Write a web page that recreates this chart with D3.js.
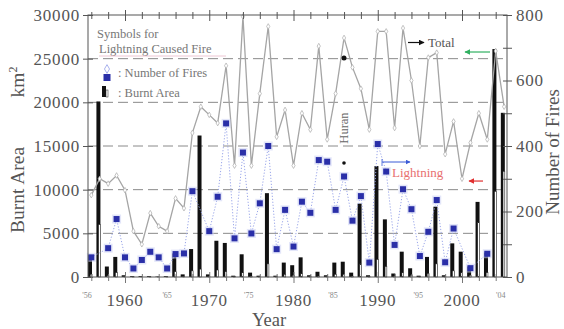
<!DOCTYPE html>
<html>
<head>
<meta charset="utf-8">
<script src="https://cdn.jsdelivr.net/npm/d3@7"></script>
<style>
  body { margin: 0; background: #fff; }
  svg { display: block; font-family: "Liberation Serif", "DejaVu Serif", serif; }
</style>
</head>
<body>
<div id="chart"></div>
<script>
// years 1956 .. 2005
const years = d3.range(1956, 2006);

// total burnt area (km2), black bars
const totalArea = [2500, 20100, 1200, 2300, 200, 100, 100, 100, 50, 100,
  2700, 300, 3200, 16200, 300, 4150, 3900, 150, 2600, 500,
  150, 9600, 150, 1650, 1350, 2250, 200, 600, 200, 1650,
  1750, 500, 8400, 200, 12700, 6600, 400, 2900, 1000, 150,
  2300, 8050, 200, 3850, 2900, 1200, 8600, 2800, 26100, 18800];

// lightning caused burnt area (km2), white bars
const lightningArea = [300, 6000, 150, 500, 30, 20, 30, 20, 10, 20,
  600, 50, 700, 900, 50, 800, 600, 30, 500, 100,
  30, 1500, 30, 300, 200, 400, 30, 100, 30, 300,
  300, 100, 1500, 30, 2000, 1200, 80, 500, 200, 30,
  400, 1500, 30, 700, 500, 200, 6300, 500, 9800, 12100];

// total number of fires, grey line
const totalFires = [250, 300, 285, 310, 265, 140, 100, 195, 155, 140,
  240, 210, 440, 520, 495, 470, 645, 340, 795, 340,
  560, 765, 428, 510, 340, 500, 450, 705, 420, 560,
  730, 640, 575, 450, 750, 750, 455, 760, 600, 400,
  670, 685, 375, 475, 300, 410, 500, 420, 690, 520];

// lightning caused fires, blue squares (null = not shown)
const lightningFires = [60, null, 88, 177, 60, 26, 52, 77, 60, 26,
  70, 72, 262, null, 140, 245, 469, 118, 380, 133,
  225, 400, 85, 205, 93, 230, 196, 357, 352, 205,
  307, 172, 247, 44, 406, 322, 98, 268, 207, 64,
  138, 235, 45, 148, null, 27, null, 71, null, null];

const leftTicks = [0, 5000, 10000, 15000, 20000, 25000, 30000];
const rightTicks = [0, 200, 400, 600, 800];
const decadeLabels = [1960, 1970, 1980, 1990, 2000];
const shortLabels = [
  { yr: 1955.5, t: "'56" }, { yr: 1965, t: "'65" }, { yr: 1974.7, t: "'75" },
  { yr: 1984.7, t: "'85" }, { yr: 1994.8, t: "'95" }, { yr: 2004.6, t: "'04" }
];

const width = 564, height = 329;
const pLeft = 88, pRight = 507, pTop = 15, pBottom = 277;

const svg = d3.select('#chart').append('svg')
  .attr('width', width).attr('height', height);

// scales
const x = d3.scaleLinear().domain([1960, 2000]).range([125, 462]);
const yL = d3.scaleLinear().domain([0, 30000]).range([pBottom, pTop]);
const yR = d3.scaleLinear().domain([0, 800]).range([pBottom, pTop]);

const txt = '#555';

// dashed grid lines
svg.append('g').selectAll('line')
  .data([5000, 10000, 15000, 20000, 25000])
  .join('line')
  .attr('x1', pLeft).attr('x2', pRight)
  .attr('y1', d => yL(d)).attr('y2', d => yL(d))
  .attr('stroke', '#8a8a8a').attr('stroke-width', 1)
  .attr('stroke-dasharray', '10,5');

// bars: total (black) and lightning (white)
const bars = svg.append('g');
years.forEach((yr, i) => {
  const cx = x(yr) - 1.3;
  bars.append('rect')
    .attr('x', cx - 2).attr('width', 4)
    .attr('y', yL(totalArea[i]))
    .attr('height', pBottom - yL(totalArea[i]))
    .attr('fill', '#111');
  bars.append('rect')
    .attr('x', cx + 0.2).attr('width', 1.8)
    .attr('y', yL(lightningArea[i]))
    .attr('height', pBottom - yL(lightningArea[i]))
    .attr('fill', '#fff').attr('stroke', '#222').attr('stroke-width', 0.5);
});

// total fires line
const lineR = d3.line().x(d => x(d[0])).y(d => yR(d[1]));
const totalPts = years.map((yr, i) => [yr, totalFires[i]]);
svg.append('path')
  .attr('d', lineR(totalPts))
  .attr('fill', 'none').attr('stroke', '#a5a5a5').attr('stroke-width', 1.3);
svg.append('g').selectAll('path')
  .data(totalPts)
  .join('path')
  .attr('d', d3.symbol(d3.symbolDiamond, 9))
  .attr('transform', d => `translate(${x(d[0])},${yR(d[1])})`)
  .attr('fill', '#fff').attr('stroke', '#aaa').attr('stroke-width', 0.7);

// lightning fires line
const lightPts = years.map((yr, i) => [yr, lightningFires[i]]).filter(d => d[1] != null);
svg.append('path')
  .attr('d', lineR(lightPts))
  .attr('fill', 'none').attr('stroke', '#9aa6ea').attr('stroke-width', 1)
  .attr('stroke-dasharray', '1.2,1.8');
const sq = svg.append('g').selectAll('g')
  .data(lightPts)
  .join('g')
  .attr('transform', d => `translate(${x(d[0])},${yR(d[1])})`);
sq.append('rect')
  .attr('x', -4.5).attr('y', -4.5).attr('width', 9).attr('height', 9)
  .attr('fill', '#ccd2f4').attr('opacity', 0.55);
sq.append('rect')
  .attr('x', -3).attr('y', -3).attr('width', 6).attr('height', 6)
  .attr('fill', '#2a2fa8');

// frame and axes
svg.append('rect')
  .attr('x', pLeft).attr('y', pTop)
  .attr('width', pRight - pLeft).attr('height', pBottom - pTop)
  .attr('fill', 'none').attr('stroke', '#555').attr('stroke-width', 1);

const leftAxis = svg.append('g')
  .attr('transform', `translate(${pLeft},0)`)
  .call(d3.axisLeft(yL).tickValues(leftTicks).tickSize(5).tickFormat(d3.format('d')));
leftAxis.select('.domain').remove();
leftAxis.selectAll('line').attr('stroke', '#555').attr('x2', 5).attr('x1', -5);
leftAxis.selectAll('text')
  .attr('x', -8).attr('fill', txt)
  .style('font-size', '17px').style('letter-spacing', '0.8px')
  .style('font-family', '"Liberation Serif", serif');

const rightAxis = svg.append('g')
  .attr('transform', `translate(${pRight},0)`)
  .call(d3.axisRight(yR).tickValues(d3.range(0, 801, 100)).tickSize(5)
    .tickFormat(d => rightTicks.includes(d) ? d : ''));
rightAxis.select('.domain').remove();
rightAxis.selectAll('line').attr('stroke', '#555').attr('x1', -4).attr('x2', 5);
rightAxis.selectAll('text')
  .attr('x', 9).attr('fill', txt)
  .style('font-size', '17px').style('letter-spacing', '0.8px')
  .style('font-family', '"Liberation Serif", serif');

const topAxis = svg.append('g')
  .attr('transform', `translate(0,${pTop})`)
  .call(d3.axisTop(x).tickValues(d3.range(1956, 2005, 2)).tickSize(4).tickFormat(''));
topAxis.select('.domain').remove();
topAxis.selectAll('line').attr('stroke', '#555')
  .attr('y1', d => d % 10 === 0 ? -5 : -3).attr('y2', d => d % 10 === 0 ? 6 : 4);

const botAxis = svg.append('g')
  .attr('transform', `translate(0,${pBottom})`)
  .call(d3.axisBottom(x).tickValues(d3.range(1956, 2005, 2)).tickSize(4).tickFormat(''));
botAxis.select('.domain').remove();
botAxis.selectAll('line').attr('stroke', '#777')
  .attr('y1', d => d % 10 === 0 ? -5 : -3).attr('y2', d => d % 10 === 0 ? 6 : 4);

// year labels
svg.append('g').selectAll('text')
  .data(decadeLabels)
  .join('text')
  .attr('x', d => x(d)).attr('y', 306)
  .attr('text-anchor', 'middle').attr('fill', txt)
  .style('font-size', '17px').style('letter-spacing', '0.8px')
  .text(d => d);
svg.append('g').selectAll('text')
  .data(shortLabels)
  .join('text')
  .attr('x', d => x(d.yr)).attr('y', 298)
  .attr('text-anchor', 'middle').attr('fill', '#888')
  .style('font-size', '8px')
  .text(d => d.t);

// axis titles
svg.append('text')
  .attr('transform', 'translate(24,190) rotate(-90)')
  .attr('text-anchor', 'middle').attr('fill', txt)
  .style('font-size', '19.5px')
  .text('Burnt Area');
svg.append('text')
  .attr('transform', 'translate(24,82) rotate(-90)')
  .attr('text-anchor', 'middle').attr('fill', txt)
  .style('font-size', '19.5px')
  .html('km<tspan dy="-7" font-size="12px">2</tspan>');
svg.append('text')
  .attr('transform', 'translate(559,152) rotate(-90)')
  .attr('text-anchor', 'middle').attr('fill', txt)
  .style('font-size', '19px')
  .text('Number of Fires');
svg.append('text')
  .attr('x', 269).attr('y', 326)
  .attr('text-anchor', 'middle').attr('fill', txt)
  .style('font-size', '18.5px')
  .text('Year');

// legend
const lg = svg.append('g').attr('fill', '#777').style('font-size', '12.5px');
lg.append('text').attr('x', 97).attr('y', 38).text('Symbols for');
lg.append('text').attr('x', 99).attr('y', 53).text('Lightning Caused Fire');
lg.append('line').attr('x1', 99).attr('x2', 226).attr('y1', 56).attr('y2', 56)
  .attr('stroke', '#e8b8c8').attr('stroke-width', 0.8);
lg.append('path').attr('d', d3.symbol(d3.symbolDiamond, 22))
  .attr('transform', 'translate(107,69)')
  .attr('fill', '#fff').attr('stroke', '#aab3ee');
lg.append('rect').attr('x', 103.5).attr('y', 74).attr('width', 7).attr('height', 7)
  .attr('fill', '#2a2fa8');
lg.append('text').attr('x', 118).attr('y', 77).text(': Number of Fires');
lg.append('rect').attr('x', 102).attr('y', 86).attr('width', 4).attr('height', 11).attr('fill', '#111');
lg.append('rect').attr('x', 106).attr('y', 90).attr('width', 2).attr('height', 7)
  .attr('fill', '#fff').attr('stroke', '#222').attr('stroke-width', 0.5);
lg.append('text').attr('x', 118).attr('y', 97).text(': Burnt Area');

// annotations
const defs = svg.append('defs');
[['ahBlack', '#111'], ['ahBlue', '#3b5bd6'], ['ahRed', '#e03030'], ['ahGreen', '#30b060']].forEach(([id, c]) => {
  defs.append('marker').attr('id', id)
    .attr('viewBox', '0 0 10 10').attr('refX', 9).attr('refY', 5)
    .attr('markerWidth', 5).attr('markerHeight', 5).attr('orient', 'auto')
    .append('path').attr('d', 'M0,0L10,5L0,10z').attr('fill', c);
});
svg.append('line').attr('x1', 408).attr('x2', 424).attr('y1', 42.5).attr('y2', 42.5)
  .attr('stroke', '#111').attr('stroke-width', 1.2).attr('marker-end', 'url(#ahBlack)');
svg.append('text').attr('x', 428).attr('y', 47).attr('fill', txt)
  .style('font-size', '13px').text('Total');

svg.append('line').attr('x1', 382).attr('x2', 410).attr('y1', 162).attr('y2', 162)
  .attr('stroke', '#3b5bd6').attr('stroke-width', 1).attr('marker-end', 'url(#ahBlue)');
svg.append('line').attr('x1', 382).attr('x2', 382).attr('y1', 159).attr('y2', 166)
  .attr('stroke', '#3b5bd6').attr('stroke-width', 0.8);
svg.append('text').attr('x', 392).attr('y', 177).attr('fill', '#e87070')
  .style('font-size', '13px').text('Lightning');

svg.append('line').attr('x1', 483).attr('x2', 469).attr('y1', yR(293)).attr('y2', yR(293))
  .attr('stroke', '#e03030').attr('stroke-width', 1.2).attr('marker-end', 'url(#ahRed)');
svg.append('line').attr('x1', 490).attr('x2', 465).attr('y1', yR(687)).attr('y2', yR(687))
  .attr('stroke', '#30b060').attr('stroke-width', 1.2).attr('marker-end', 'url(#ahGreen)');

// Huran marker
svg.append('text')
  .attr('transform', 'translate(348,128) rotate(-90)')
  .attr('text-anchor', 'middle').attr('fill', '#666')
  .style('font-size', '12.5px').text('Huran');
svg.append('circle').attr('cx', 344).attr('cy', 58).attr('r', 2.5).attr('fill', '#111');
svg.append('circle').attr('cx', 344).attr('cy', 163).attr('r', 1.8).attr('fill', '#111');
</script>
</body>
</html>
